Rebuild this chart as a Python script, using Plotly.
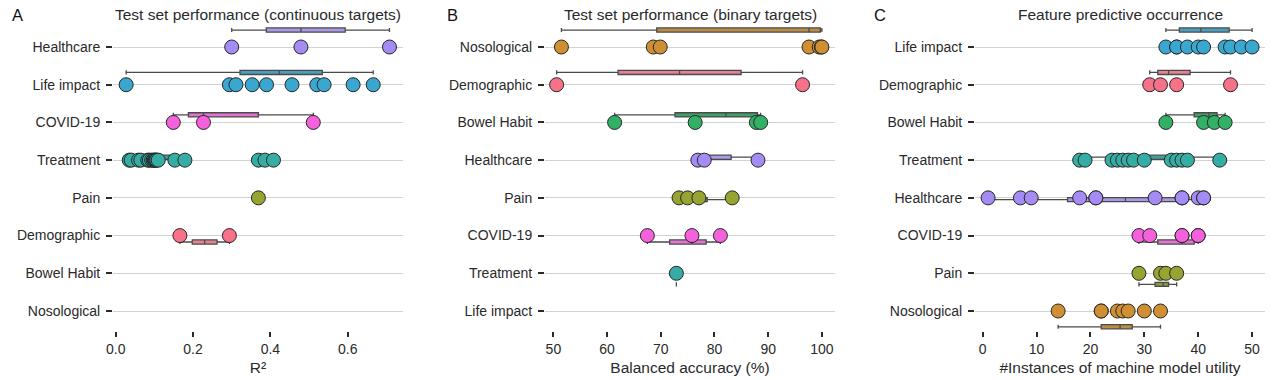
import colorsys
import numpy as np
import plotly.graph_objects as go

# ---------------- data ----------------
colors = {
    "Demographic": "#f77189",
    "Nosological": "#ce9032",
    "Pain": "#97a431",
    "Bowel Habit": "#32b166",
    "Treatment": "#36ada4",
    "Life impact": "#39a7d0",
    "Healthcare": "#a48cf4",
    "COVID-19": "#f561dd",
}

# Panel A: R2 (continuous targets)
a_order = ["Healthcare", "Life impact", "COVID-19", "Treatment", "Pain",
           "Demographic", "Bowel Habit", "Nosological"]
a_healthcare = [0.300, 0.479, 0.708]
a_life = [0.027, 0.294, 0.311, 0.353, 0.390, 0.456, 0.520, 0.539, 0.614, 0.666]
a_covid = [0.149, 0.227, 0.511]
a_treatment = [0.035, 0.040, 0.059, 0.065, 0.083, 0.087, 0.093, 0.097, 0.100,
               0.102, 0.104, 0.106, 0.110, 0.153, 0.179, 0.369, 0.386, 0.408]
a_pain = [0.369]
a_demographic = [0.166, 0.294]
a_bowel = []
a_nosological = []

# Panel B: balanced accuracy (binary targets)
b_order = ["Nosological", "Demographic", "Bowel Habit", "Healthcare", "Pain",
           "COVID-19", "Treatment", "Life impact"]
b_nosological = [51.5, 68.6, 69.9, 97.6, 99.5, 99.9, 100.0]
b_demographic = [50.6, 96.4]
b_bowel = [61.4, 76.4, 87.8, 88.6]
b_healthcare = [76.9, 78.1, 88.1]
b_pain = [73.4, 75.0, 77.1, 83.3]
b_covid = [67.5, 75.8, 81.1]
b_treatment = [72.9]
b_life = []

# Panel C: feature predictive occurrence
c_order = ["Life impact", "Demographic", "Bowel Habit", "Treatment", "Healthcare",
           "COVID-19", "Pain", "Nosological"]
c_life = [34, 36, 36, 38, 40, 41, 45, 46, 48, 50]
c_demographic = [31, 33, 36, 46]
c_bowel = [34, 41, 43, 45]
c_treatment = [18, 19, 24, 25, 26, 27, 28, 30, 35, 36, 37, 38, 44]
c_healthcare = [1, 7, 9, 18, 21, 21, 32, 37, 37, 40, 41, 41]
c_covid = [29, 31, 37, 37, 40, 40]
c_pain = [29, 33, 34, 36]
c_nosological = [14, 22, 22, 25, 26, 27, 30, 33]

a_ticks = [0.0, 0.2, 0.4, 0.6]
a_ticklabels = ["0.0", "0.2", "0.4", "0.6"]
b_ticks = [50, 60, 70, 80, 90, 100]
b_ticklabels = ["50", "60", "70", "80", "90", "100"]
c_ticks = [0, 10, 20, 30, 40, 50]
c_ticklabels = ["0", "10", "20", "30", "40", "50"]

panel_titles = ["Test set performance (continuous targets)",
                "Test set performance (binary targets)",
                "Feature predictive occurrence"]
panel_letters = ["A", "B", "C"]
x_titles = ["R²", "Balanced accuracy (%)", "#Instances of machine model utility"]

panels = [
    (a_order, {"Healthcare": a_healthcare, "Life impact": a_life, "COVID-19": a_covid,
               "Treatment": a_treatment, "Pain": a_pain, "Demographic": a_demographic,
               "Bowel Habit": a_bowel, "Nosological": a_nosological},
     a_ticks, a_ticklabels),
    (b_order, {"Nosological": b_nosological, "Demographic": b_demographic,
               "Bowel Habit": b_bowel, "Healthcare": b_healthcare, "Pain": b_pain,
               "COVID-19": b_covid, "Treatment": b_treatment, "Life impact": b_life},
     b_ticks, b_ticklabels),
    (c_order, {"Life impact": c_life, "Demographic": c_demographic, "Bowel Habit": c_bowel,
               "Treatment": c_treatment, "Healthcare": c_healthcare, "COVID-19": c_covid,
               "Pain": c_pain, "Nosological": c_nosological},
     c_ticks, c_ticklabels),
]

# ---------------- layout / style ----------------
W, H = 1280, 380
PLOT_TOP, PLOT_BOTTOM = 24, 331
x_pixels = [(113, 403), (545, 835), (975, 1265)]
x_ranges = [(-0.007, 0.743), (48.44, 102.44), (-1.43, 52.4)]
Y_RANGE = [7.53, -0.61]
FONT = "Liberation Sans, Arial, sans-serif"
TXT = "#2a2a2a"
EDGE = "#4a4a4a"


def desaturate(hexcol, prop=0.75):
    r, g, b = (int(hexcol[i:i + 2], 16) / 255 for i in (1, 3, 5))
    h, l, s = colorsys.rgb_to_hls(r, g, b)
    r, g, b = colorsys.hls_to_rgb(h, l, s * prop)
    return "rgb(%d,%d,%d)" % (round(r * 255), round(g * 255), round(b * 255))


def box_stats(vals):
    v = np.sort(np.asarray(vals, float))
    q1, med, q3 = np.percentile(v, [25, 50, 75])
    iqr = q3 - q1
    lo = v[v >= q1 - 1.5 * iqr].min()
    hi = v[v <= q3 + 1.5 * iqr].max()
    return q1, med, q3, lo, hi


fig = go.Figure()
layout = {}
annotations = []

for p, (order, data, ticks, ticklabels) in enumerate(panels):
    n = p + 1
    xa = "x" if n == 1 else "x%d" % n
    ya = "y" if n == 1 else "y%d" % n
    # boxes (drawn first)
    for i, cat in enumerate(order):
        vals = data[cat]
        if len(vals) == 0:
            continue
        q1, med, q3, lo, hi = box_stats(vals)
        off = -0.45 + 0.124 * i
        fig.add_trace(go.Box(
            orientation="h", y=[i + off], q1=[q1], median=[med], q3=[q3],
            lowerfence=[lo], upperfence=[hi], width=0.11, whiskerwidth=1,
            fillcolor=desaturate(colors[cat]), line=dict(color=EDGE, width=1.3),
            boxpoints=False, xaxis=xa, yaxis=ya, showlegend=False, hoverinfo="skip"))
    # points
    for i, cat in enumerate(order):
        vals = sorted(data[cat])
        if len(vals) == 0:
            continue
        fig.add_trace(go.Scatter(
            x=vals, y=[i] * len(vals), mode="markers",
            marker=dict(size=14, color=colors[cat], line=dict(color="#262626", width=1)),
            xaxis=xa, yaxis=ya, showlegend=False, hoverinfo="x"))

    x0, x1 = x_pixels[p]
    dom = [x0 / W, x1 / W]
    xkey = "xaxis" if n == 1 else "xaxis%d" % n
    ykey = "yaxis" if n == 1 else "yaxis%d" % n
    layout[xkey] = dict(
        domain=dom, range=list(x_ranges[p]), anchor=ya,
        tickmode="array", tickvals=ticks, ticktext=ticklabels,
        ticks="outside", ticklen=5, tickwidth=1.8, tickcolor=TXT,
        ticklabelstandoff=0,
        showgrid=False, zeroline=False, showline=False,
        tickfont=dict(size=14, color=TXT, family=FONT),
        title=dict(text=x_titles[p], font=dict(size=15.5, color=TXT, family=FONT), standoff=6),
        automargin=False, fixedrange=True)
    layout[ykey] = dict(
        domain=[0, 1], range=Y_RANGE, anchor=xa,
        tickmode="array", tickvals=list(range(len(order))), ticktext=order,
        ticks="outside", ticklen=6, tickwidth=1.8, tickcolor=TXT,
        ticklabelstandoff=3,
        showgrid=True, gridcolor="#d2d2d2", gridwidth=1.4,
        zeroline=False, showline=False,
        tickfont=dict(size=14, color=TXT, family=FONT),
        automargin=False, fixedrange=True)
    cx = (x0 + x1) / 2 / W
    annotations.append(dict(
        text=panel_titles[p], x=cx, y=(PLOT_BOTTOM - 15) / (PLOT_BOTTOM - PLOT_TOP),
        xref="paper", yref="paper", xanchor="center", yanchor="middle",
        showarrow=False, font=dict(size=15.5, color=TXT, family=FONT)))

letter_x = [10, 445, 872]
for p in range(3):
    annotations.append(dict(
        text=panel_letters[p], x=letter_x[p] / W,
        y=(PLOT_BOTTOM - 15) / (PLOT_BOTTOM - PLOT_TOP),
        xref="paper", yref="paper", xanchor="left", yanchor="middle",
        showarrow=False, font=dict(size=16.5, color="#111111", family=FONT)))

fig.update_layout(
    width=W, height=H,
    margin=dict(l=0, r=0, t=PLOT_TOP, b=H - PLOT_BOTTOM, pad=0),
    paper_bgcolor="white", plot_bgcolor="white",
    font=dict(family=FONT, color=TXT, size=14),
    annotations=annotations, showlegend=False, hovermode=False,
    **layout)

fig.write_html("out.html", config={"displayModeBar": False},
               post_script="document.body.style.margin='0px';document.body.style.overflow='hidden';")
